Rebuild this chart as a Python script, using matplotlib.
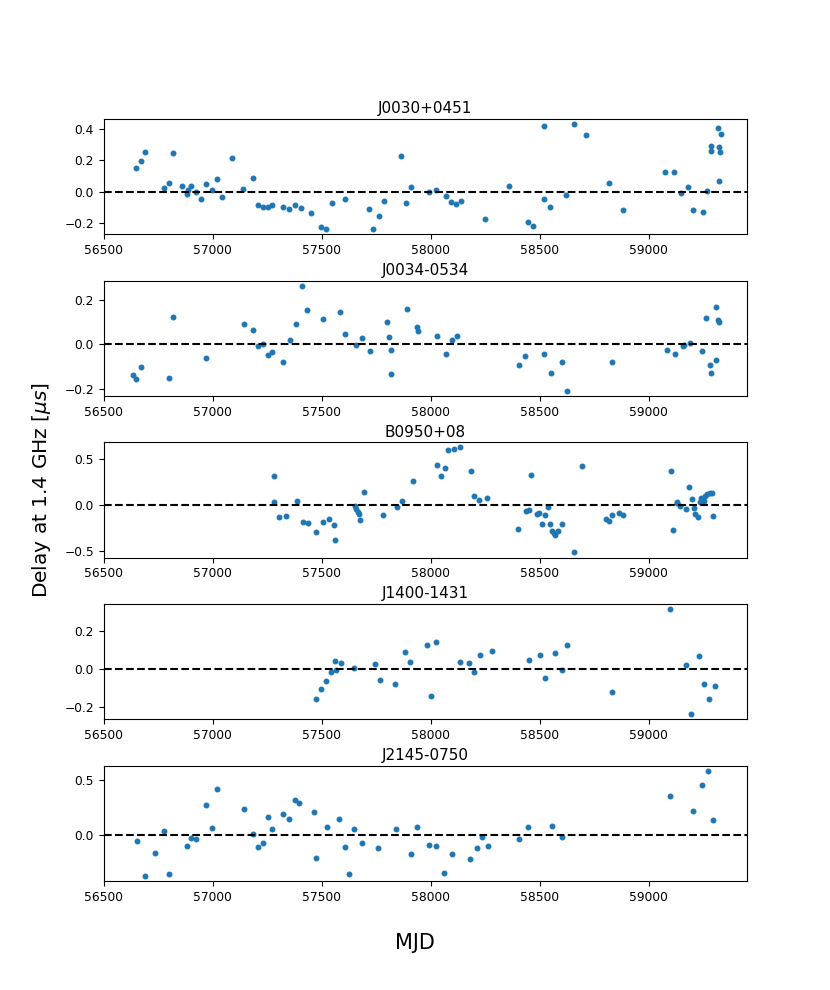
import numpy as np
from matplotlib import pyplot as plt

names = ['J0030+0451', 'J0034-0534', 'B0950+08', 'J1400-1431', 'J2145-0750']

# J0030+0451
mjd_j0030 = [56647, 56669, 56688, 56775, 56797, 56818, 56860, 56880, 56888, 56901,
             56924, 56944, 56969, 56996, 57021, 57041, 57089, 57140, 57184, 57207,
             57229, 57252, 57273, 57322, 57351, 57378, 57403, 57450, 57498, 57521,
             57545, 57605, 57715, 57736, 57762, 57783, 57862, 57884, 57907, 57992,
             58025, 58070, 58091, 58116, 58138, 58248, 58359, 58446, 58469, 58519,
             58519, 58546, 58622, 58655, 58713, 58818, 58882, 59074, 59116, 59149,
             59180, 59203, 59246, 59267, 59283, 59285, 59318, 59322, 59325, 59329,
             59322]
dly_j0030 = [0.154, 0.195, 0.257, 0.021, 0.054, 0.249, 0.034, -0.015, 0.013, 0.036,
             -0.002, -0.049, 0.051, 0.009, 0.079, -0.034, 0.216, 0.017, 0.090, -0.090,
             -0.101, -0.099, -0.088, -0.101, -0.114, -0.086, -0.107, -0.141, -0.231, -0.242,
             -0.077, -0.047, -0.114, -0.240, -0.159, -0.062, 0.227, -0.075, 0.030, 0.000,
             0.011, -0.026, -0.066, -0.079, -0.058, -0.176, 0.036, -0.199, -0.221, 0.422,
             -0.051, -0.103, -0.024, 0.435, 0.364, 0.056, -0.116, 0.129, 0.126, -0.009,
             0.028, -0.116, -0.133, 0.002, 0.296, 0.259, 0.409, 0.285, 0.255, 0.371,
             0.071]

# J0034-0534
mjd_j0034 = [56634, 56649, 56669, 56797, 56818, 56969, 57143, 57184, 57207, 57229,
             57252, 57273, 57324, 57355, 57380, 57407, 57430, 57506, 57582, 57607,
             57655, 57686, 57723, 57798, 57810, 57818, 57818, 57890, 57936, 57940,
             58027, 58070, 58095, 58118, 58405, 58430, 58521, 58550, 58603, 58624,
             58833, 59085, 59118, 59157, 59159, 59190, 59244, 59263, 59281, 59285,
             59310, 59310, 59316, 59322]
dly_j0034 = [-0.136, -0.154, -0.103, -0.151, 0.124, -0.063, 0.091, 0.063, -0.009, 0.000,
             -0.046, -0.036, -0.078, 0.021, 0.091, 0.264, 0.157, 0.114, 0.145, 0.046,
             -0.003, 0.027, -0.031, 0.103, 0.033, -0.025, -0.132, 0.159, 0.078, 0.060,
             0.040, -0.042, 0.019, 0.037, -0.093, -0.054, -0.042, -0.129, -0.081, -0.208,
             -0.078, -0.025, -0.045, -0.009, -0.001, 0.006, -0.028, 0.118, -0.094, -0.126,
             -0.070, 0.169, 0.111, 0.102]

# B0950+08
mjd_b0950 = [57279, 57281, 57306, 57335, 57384, 57413, 57436, 57473, 57504, 57533,
             57558, 57560, 57651, 57655, 57665, 57669, 57676, 57692, 57779, 57845,
             57870, 57917, 58029, 58045, 58064, 58078, 58107, 58134, 58182, 58196,
             58221, 58258, 58401, 58436, 58449, 58459, 58488, 58498, 58509, 58523,
             58537, 58548, 58556, 58564, 58568, 58581, 58601, 58657, 58694, 58804,
             58816, 58831, 58864, 58883, 59102, 59112, 59129, 59131, 59145, 59168,
             59185, 59197, 59205, 59212, 59226, 59235, 59241, 59249, 59255, 59258,
             59268, 59280, 59289, 59293]
dly_b0950 = [0.319, 0.036, -0.130, -0.120, 0.047, -0.188, -0.192, -0.290, -0.188, -0.149,
             -0.217, -0.384, -0.007, -0.047, -0.072, -0.091, -0.163, 0.141, -0.105, -0.022,
             0.047, 0.257, 0.435, 0.319, 0.399, 0.594, 0.609, 0.627, 0.366, 0.098,
             0.054, 0.076, -0.257, -0.069, -0.054, 0.326, -0.101, -0.083, -0.203, -0.112,
             -0.025, -0.203, -0.279, -0.304, -0.319, -0.283, -0.203, -0.514, 0.428, -0.152,
             -0.170, -0.105, -0.087, -0.105, 0.373, -0.272, 0.022, 0.036, -0.014, -0.047,
             0.196, 0.072, -0.033, -0.094, -0.134, 0.033, 0.083, 0.040, 0.040, 0.101,
             0.116, 0.127, 0.127, -0.116]

# J1400-1431
mjd_j1400 = [57473, 57496, 57521, 57543, 57562, 57566, 57589, 57647, 57744, 57765,
             57837, 57882, 57905, 57981, 58002, 58025, 58134, 58173, 58200, 58225,
             58279, 58450, 58502, 58523, 58568, 58601, 58626, 58830, 59099, 59169,
             59194, 59231, 59252, 59276, 59305]
dly_j1400 = [-0.158, -0.109, -0.063, -0.018, 0.040, -0.007, 0.028, 0.005, 0.025, -0.061,
             -0.081, 0.089, 0.035, 0.125, -0.142, 0.140, 0.035, 0.032, -0.016, 0.074,
             0.095, 0.047, 0.072, -0.049, 0.084, -0.007, 0.125, -0.121, 0.314, 0.018,
             -0.240, 0.067, -0.081, -0.160, -0.089]

# J2145-0750
mjd_j2145 = [56651, 56690, 56734, 56775, 56798, 56882, 56901, 56924, 56969, 56996,
             57021, 57143, 57184, 57207, 57229, 57252, 57273, 57322, 57351, 57376,
             57397, 57463, 57473, 57523, 57580, 57605, 57626, 57647, 57686, 57760,
             57839, 57911, 57936, 57992, 58025, 58062, 58097, 58180, 58213, 58236,
             58262, 58405, 58446, 58558, 58603, 59095, 59202, 59244, 59273, 59296]
dly_j2145 = [-0.048, -0.365, -0.156, 0.042, -0.347, -0.096, -0.027, -0.036, 0.269, 0.066,
             0.413, 0.234, 0.015, -0.108, -0.066, 0.165, 0.057, 0.189, 0.150, 0.317,
             0.290, 0.204, -0.207, 0.072, 0.147, -0.105, -0.344, 0.060, -0.066, -0.114,
             0.057, -0.168, 0.078, -0.084, -0.093, -0.335, -0.168, -0.210, -0.117, -0.012,
             -0.099, -0.036, 0.072, 0.081, -0.012, 0.356, 0.219, 0.452, 0.578, 0.141]

all_mjd = [mjd_j0030, mjd_j0034, mjd_b0950, mjd_j1400, mjd_j2145]
all_dly = [dly_j0030, dly_j0034, dly_b0950, dly_j1400, dly_j2145]

xticks = [56500, 57000, 57500, 58000, 58500, 59000]
yticks = [[-0.2, 0.0, 0.2, 0.4],
          [-0.2, 0.0, 0.2],
          [-0.5, 0.0, 0.5],
          [-0.2, 0.0, 0.2],
          [0.0, 0.5]]

fig, axes = plt.subplots(5, 1, figsize=(8.3, 9.9), dpi=100)
fig.subplots_adjust(hspace=0.4)

for i in range(5):
    ax = axes[i]
    ax.plot(all_mjd[i], all_dly[i], '.', color='C0', ms=6.5)
    ax.axhline(0, color='k', ls='--')
    ax.set_title(names[i], fontsize=11, pad=4)
    ax.set_xlim(56500, 59450)
    ax.set_xticks(xticks)
    ax.set_yticks(yticks[i])
    ax.tick_params(labelsize=8.8)

fig.text(0.05, 0.505, r'Delay at 1.4 GHz [$\mu s$]', rotation=90,
         ha='center', va='center', fontsize=14.5)
fig.text(0.5, 0.047, 'MJD', ha='center', va='center', fontsize=15)

plt.savefig('out.png')
